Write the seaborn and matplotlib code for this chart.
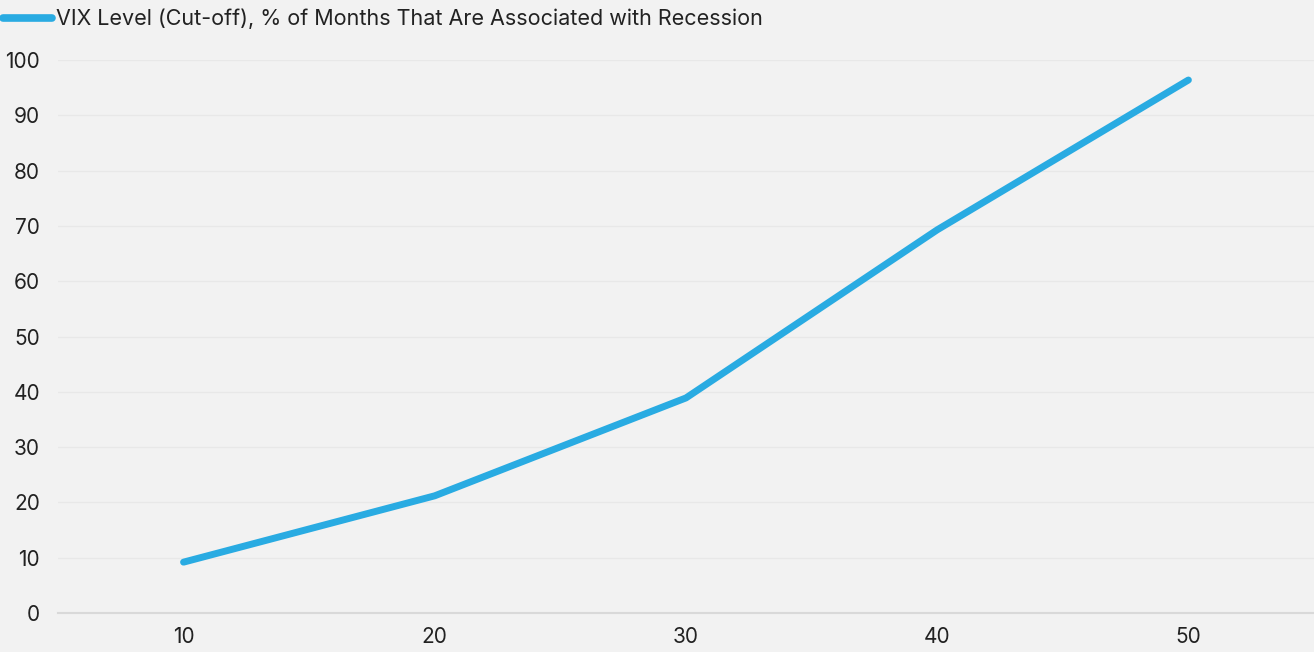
import matplotlib
matplotlib.use("Agg")
import matplotlib.pyplot as plt
import seaborn as sns
import pandas as pd

# data
vix_levels = ["10", "20", "30", "40", "50"]
recession_pct = [9.2, 21.2, 38.9, 69.3, 96.4]
series_name = "VIX Level (Cut-off), % of Months That Are Associated with Recession"

df = pd.DataFrame({"VIX": vix_levels, "Pct": recession_pct})

sns.set_style("white")
plt.rcParams["font.family"] = ["Inter", "DejaVu Sans"]

bg = "#f2f2f2"
blue = "#29abe2"

fig = plt.figure(figsize=(13.14, 6.52), dpi=100, facecolor=bg)
ax = fig.add_axes([0.0441, 0.0598, 0.9559, 0.848])
ax.set_facecolor(bg)

sns.lineplot(data=df, x="VIX", y="Pct", ax=ax, color=blue, linewidth=5,
             solid_capstyle="round", label=series_name, sort=False)

ax.set_xlim(-0.5, 4.5)
ax.set_ylim(0, 100)
ax.set_yticks(range(0, 101, 10))
ax.grid(axis="y", color="#e8e8e8", linewidth=1)
ax.set_axisbelow(True)
for s in ["top", "right", "left"]:
    ax.spines[s].set_visible(False)
ax.spines["bottom"].set_color("#d9d9d9")
ax.spines["bottom"].set_linewidth(1.5)
ax.tick_params(axis="both", length=0, labelsize=15, colors="#222222")
ax.tick_params(axis="y", pad=13)
ax.tick_params(axis="x", pad=10)
ax.set_xlabel("")
ax.set_ylabel("")
for line in ax.get_lines():
    line.set_clip_on(False)

leg = ax.legend(loc="upper left", bbox_to_anchor=(-0.0441, 1.093), frameon=False,
                fontsize=15.5, handlelength=2.3, handletextpad=0.2,
                borderaxespad=0, borderpad=0)
for h in leg.get_lines():
    h.set_linewidth(5.5)
    h.set_solid_capstyle("round")
for t in leg.get_texts():
    t.set_color("#222222")

fig.savefig("out.png", dpi=100, facecolor=bg)
